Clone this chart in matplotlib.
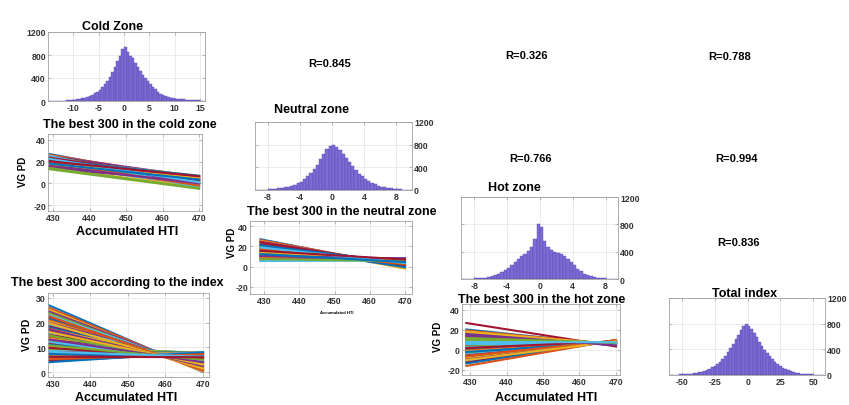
import matplotlib
matplotlib.use("Agg")
import matplotlib.pyplot as plt

# histogram bin centers / counts
cold_x = [-14.75 + 0.5 * i for i in range(62)]
cold_n = [2, 3, 3, 4, 5, 6, 8, 10, 14, 18, 24, 30, 38, 48, 60, 72, 90, 110, 135, 165,
          200, 240, 290, 350, 420, 500, 590, 690, 790, 900, 940, 860, 790, 740, 660, 590,
          520, 460, 400, 350, 300, 250, 205, 165, 130, 100, 80, 65, 55, 48, 42, 38, 34,
          30, 26, 22, 18, 15, 12, 9, 7, 5]

neu_x = [-9.4 + 0.4 * i for i in range(49)]
neu_n = [3, 4, 6, 8, 11, 15, 20, 27, 35, 45, 57, 72, 92, 118, 150, 190, 240, 300, 370,
         450, 540, 630, 720, 770, 790, 760, 700, 630, 560, 490, 420, 350, 290, 240, 195,
         160, 128, 100, 78, 60, 46, 35, 27, 20, 15, 11, 8, 5, 3]

hot_x = [-9.4 + 0.4 * i for i in range(48)]
hot_n = [2, 3, 4, 6, 8, 11, 15, 21, 30, 42, 58, 78, 100, 128, 160, 200, 250, 300, 340,
         370, 410, 470, 580, 800, 760, 560, 470, 420, 400, 385, 370, 340, 300, 250, 200,
         150, 110, 78, 55, 38, 26, 18, 12, 8, 6, 4, 3, 2]

tot_x = [-59 + 2 * i for i in range(59)]
tot_n = [2, 3, 4, 6, 8, 10, 13, 17, 22, 28, 35, 43, 53, 65, 80, 98, 120, 145, 175, 210,
         250, 300, 355, 420, 490, 560, 630, 700, 760, 790, 770, 720, 660, 590, 520, 455,
         395, 340, 290, 245, 205, 170, 140, 115, 93, 75, 60, 48, 38, 30, 23, 18, 14, 11,
         8, 6, 4, 3, 2]

# best lines: VG PD at HTI=429 and HTI=470
hti = [429, 470]
cold_y0 = [27.0, 26.3, 25.6, 25.0, 24.5, 24.0, 23.4, 22.9, 22.3, 21.8, 21.2, 20.7, 20.1,
           19.6, 19.0, 18.5, 18.0, 17.4, 16.9, 16.3, 15.8, 15.2, 14.7, 14.2, 13.6, 13.0,
           25.3, 23.7, 21.5, 19.3, 17.7, 16.0, 14.0, 22.6, 20.4, 18.2]
cold_y1 = [1.5, 4.0, -1.0, 6.0, 2.5, 0.0, 5.0, -2.5, 3.5, 7.0, 1.0, -0.5, 4.5, 6.5, 2.0,
           -3.0, 5.5, 3.0, 0.5, -1.5, 6.0, 4.0, 1.5, -3.5, 2.5, -5.0, -4.0, 3.0, 7.0, -2.0,
           5.0, 0.0, -4.5, 1.0, 6.5, 3.5]

neu_y0 = [27.0, 26.2, 25.3, 24.5, 23.6, 22.8, 22.0, 21.1, 20.3, 19.5, 18.6, 17.8, 17.0,
          16.1, 15.3, 14.5, 13.6, 12.8, 12.0, 11.1, 10.3, 9.5, 8.6, 7.8, 7.0, 6.2, 5.5,
          24.0, 20.8, 17.3, 13.9, 10.6, 7.4, 18.9, 15.6, 12.4]
neu_y1 = [-1.0, 0.5, -2.0, 1.0, 0.0, 2.0, 3.0, -0.5, 2.5, 4.0, 3.5, 5.0, 4.5, 6.0, 5.5,
          3.0, 6.5, 7.0, 5.0, 7.5, 6.0, 8.0, 7.0, 6.5, 8.0, 7.5, 6.0, 1.5, 4.0, 2.5, 6.0,
          8.0, 5.5, 3.5, 7.0, 4.5]

idx_y0 = [27.0, 26.0, 25.2, 24.5, 23.8, 23.0, 22.2, 21.5, 21.0, 20.5, 20.0, 19.5, 19.0,
          18.5, 18.0, 17.5, 17.0, 16.5, 16.0, 15.5, 15.0, 14.5, 14.0, 13.5, 13.0, 12.5,
          12.0, 11.5, 11.0, 10.5, 10.0, 9.5, 9.0, 8.5, 8.0, 7.5, 7.0, 6.5, 6.0, 5.5, 5.0,
          4.5, 4.0, 22.6, 19.8, 17.2, 14.8, 12.2, 9.8, 7.2, 5.2, 16.2, 13.2, 10.8, 8.2, 6.2]
idx_y1 = [0.0, 0.5, 0.2, 1.0, 0.8, 1.5, 1.2, 2.0, 2.5, 1.8, 3.0, 2.2, 3.5, 2.8, 4.0, 3.2,
          4.5, 3.8, 5.0, 4.2, 5.5, 4.8, 6.0, 5.2, 6.5, 5.8, 7.0, 6.2, 7.5, 6.8, 7.8, 6.5,
          8.0, 7.2, 7.6, 8.0, 7.4, 8.0, 7.8, 7.0, 8.0, 7.5, 8.0, 0.6, 1.4, 2.4, 3.6, 4.6,
          5.6, 6.8, 7.2, 3.0, 4.0, 5.0, 6.2, 6.0]

hot_y0 = [20.5, 19.5, 18.5, 17.5, 16.5, 15.5, 27.0, 14.5, 13.5, 12.5, 11.5, 10.5, 9.5,
          8.5, 7.5, 6.5, 5.5, 4.5, 3.5, 2.5, 1.5, 0.5, -0.5, -1.5, -2.5, -3.5, -4.5, -5.5,
          -6.5, -7.5, -8.5, -9.5, -10.5, -11.5, -12.5, -13.5, -16.0, 18.0, 14.0, 10.0, 6.0,
          2.0, -2.0, -6.0, -10.0, 16.0, 12.0, 8.0]
hot_y1 = [5.0, 5.5, 4.8, 5.8, 5.2, 6.2, 3.5, 5.6, 6.4, 6.0, 6.8, 6.3, 7.0, 6.6, 7.4, 6.9,
          7.6, 7.2, 7.9, 7.5, 8.2, 7.8, 8.4, 8.0, 8.7, 8.3, 9.0, 8.6, 9.2, 8.9, 9.5, 9.1,
          9.7, 9.4, 9.9, 9.6, 10.0, 6.0, 5.0, 7.5, 6.0, 8.6, 7.6, 9.6, 8.8, 4.6, 7.2, 7.8]

r_labels = ["R=0.845", "R=0.326", "R=0.788", "R=0.766", "R=0.994", "R=0.836"]

W, H = 849, 406
MATLAB = ["#0072bd", "#d95319", "#edb120", "#7e2f8e", "#77ac30", "#4dbeee", "#a2142f"]


def px_axes(fig, x1, y1, x2, y2):
    return fig.add_axes([x1 / W, 1 - y2 / H, (x2 - x1) / W, (y2 - y1) / H])


def px_text(fig, x, y, s, size=9, **kw):
    fig.text(x / W, 1 - y / H, s, fontsize=size, ha="center", va="center", **kw)


def style_axes(ax, right=False):
    for sp in ax.spines.values():
        sp.set_color("#a0a0a0")
        sp.set_linewidth(0.6)
    ax.grid(True, color="#e4e4e4", linewidth=0.5)
    ax.set_axisbelow(True)
    ax.tick_params(labelsize=6.3, length=2, width=0.5, pad=1.5, direction="in",
                   colors="#a0a0a0", labelcolor="#333333", top=True, right=True)
    if right:
        ax.yaxis.tick_right()
        ax.tick_params(axis="y", left=True)


def hist_panel(fig, box, x, n, width, xlim, xticks, right):
    ax = px_axes(fig, *box)
    ax.bar(x, n, width=width, color="#7c6cd4", edgecolor="#5846b0", linewidth=0.3)
    ax.set_xlim(xlim)
    ax.set_ylim(0, 1200)
    ax.set_xticks(xticks)
    ax.set_yticks([0, 400, 800, 1200])
    style_axes(ax, right)
    return ax


def lines_panel(fig, box, y0, y1, xlim, ylim, yticks):
    ax = px_axes(fig, *box)
    for i in range(len(y0)):
        ax.plot(hti, [y0[i], y1[i]], color=MATLAB[i % len(MATLAB)], linewidth=1.5)
    ax.set_xlim(xlim)
    ax.set_ylim(ylim)
    ax.set_xticks([430, 440, 450, 460, 470])
    ax.set_yticks(yticks)
    style_axes(ax)
    return ax


def main():
    plt.rcParams["font.family"] = ["Liberation Sans", "DejaVu Sans"]
    plt.rcParams["font.weight"] = "bold"
    plt.rcParams["axes.unicode_minus"] = False
    fig = plt.figure(figsize=(W / 100, H / 100), dpi=100)

    hist_panel(fig, (48, 33, 205, 102), cold_x, cold_n, 0.5, (-15, 16),
               [-10, -5, 0, 5, 10, 15], False)
    hist_panel(fig, (255, 123, 412, 191), neu_x, neu_n, 0.4, (-9.6, 10),
               [-8, -4, 0, 4, 8], True)
    hist_panel(fig, (461, 198, 618, 280), hot_x, hot_n, 0.4, (-9.6, 9.5),
               [-8, -4, 0, 4, 8], True)
    hist_panel(fig, (669, 299, 825, 376), tot_x, tot_n, 2, (-60, 59),
               [-50, -25, 0, 25, 50], True)

    lines_panel(fig, (48, 135, 202, 212), cold_y0, cold_y1, (428.6, 470.8), (-25.5, 45.5),
                [-20, 0, 20, 40])
    lines_panel(fig, (250, 222, 412, 295), neu_y0, neu_y1, (426, 472), (-27, 45),
                [-20, 0, 20, 40])
    lines_panel(fig, (48, 294, 209, 378), idx_y0, idx_y1, (428.7, 471.6), (-2, 32),
                [0, 10, 20, 30])
    lines_panel(fig, (462, 305, 620, 376), hot_y0, hot_y1, (427.8, 471.1), (-25, 46),
                [-20, 0, 20, 40])

    # titles and labels
    px_text(fig, 113, 27, "Cold Zone")
    px_text(fig, 130, 125, "The best 300 in the cold zone")
    px_text(fig, 127, 232, "Accumulated HTI")
    px_text(fig, 23, 172, "VG PD", size=7, rotation=90)

    px_text(fig, 117, 283, "The best 300 according to the index")
    px_text(fig, 126, 398, "Accumulated HTI")
    px_text(fig, 27, 335, "VG PD", size=7.5, rotation=90)

    px_text(fig, 312, 110, "Neutral zone")
    px_text(fig, 342, 212, "The best 300 in the neutral zone")
    px_text(fig, 337, 313, "Accumulated HTI", size=3)
    px_text(fig, 232, 243, "VG PD", size=7, rotation=90)

    px_text(fig, 514, 188, "Hot zone")
    px_text(fig, 542, 300, "The best 300 in the hot zone")
    px_text(fig, 546, 398, "Accumulated HTI")
    px_text(fig, 438, 337, "VG PD", size=7, rotation=90)

    px_text(fig, 745, 294, "Total index")

    r_pos = [(330, 64), (527, 56), (730, 57), (530, 159), (736, 159), (738, 243)]
    for (x, y), s in zip(r_pos, r_labels):
        px_text(fig, x, y, s, size=8)

    fig.savefig("out.png", dpi=100)


if __name__ == '__main__':
    main()
